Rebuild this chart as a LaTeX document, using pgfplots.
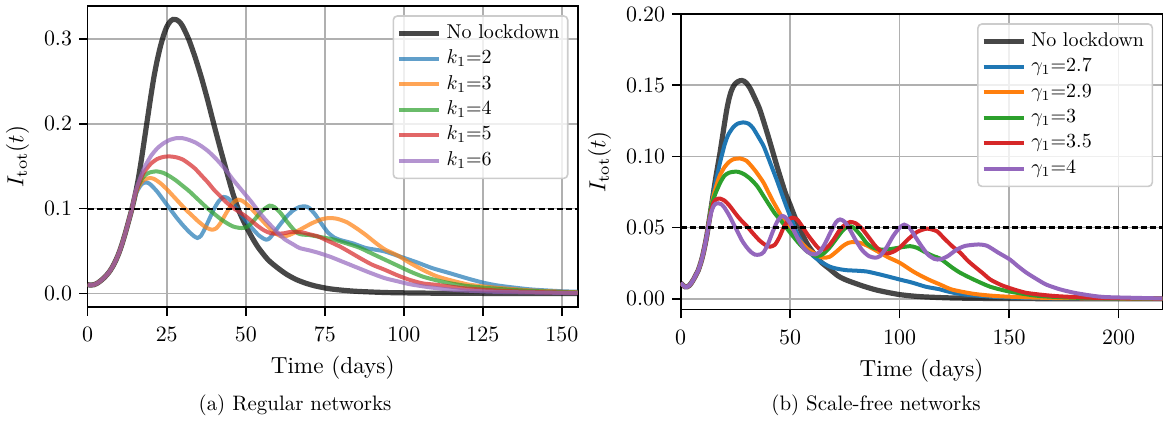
\documentclass[border=0pt]{standalone}
\usepackage{pgfplots}
\pgfplotsset{compat=1.18}
\definecolor{tblue}{HTML}{1F77B4}
\definecolor{torange}{HTML}{FF7F0E}
\definecolor{tgreen}{HTML}{2CA02C}
\definecolor{tred}{HTML}{D62728}
\definecolor{tpurple}{HTML}{9467BD}
\pgfplotsset{
  common/.style={
    scale only axis,
    axis line style={line width=0.8pt},
    grid=major,
    major grid style={color=black!31, line width=0.8pt},
    tick align=outside,
    xtick pos=left, ytick pos=left,
    major tick length=4.3pt,
    every tick/.style={black, line width=0.8pt},
    tick label style={font=\fontsize{10.5}{12}\selectfont},
    xticklabel style={yshift=-2.3pt},
    label style={font=\fontsize{10}{12}\selectfont, scale=1.16},
    xlabel={Time (days)},
    ylabel={$I_{\mathrm{tot}}(t)$},
    legend cell align=left,
    legend image code/.code={\draw[##1] (0pt,0pt) -- (20pt,0pt);},
    legend style={at={(1,1)}, anchor=north east, xshift=-4.6pt, yshift=-4.6pt,
      draw=black!20, line width=0.8pt, rounded corners=2pt, fill=white, fill opacity=0.8, text opacity=1,
      font=\fontsize{10}{12}\selectfont, inner xsep=1.5pt, inner ysep=2.5pt, row sep=0pt,
      nodes={inner ysep=1.2pt, inner xsep=2.6pt, text height=7.5pt, text depth=2.8pt}},
  },
  nolock/.style={black, opacity=0.72, line width=2.6pt, smooth, tension=0.4},
  ca/.style={#1, opacity=0.7, line width=2.0pt, smooth, tension=0.4},
  cb/.style={#1, line width=2.0pt, smooth, tension=0.4},
}
\begin{document}
\begin{tikzpicture}
\useasboundingbox (0,0) rectangle (583.5pt,210.5pt);
% ---------------- panel (a)
\begin{axis}[common,
  at={(43.85pt,56.85pt)}, anchor=south west,
  width=245pt, height=150.65pt,
  xmin=0, xmax=155, ymin=-0.0161, ymax=0.3386,
  xtick={0,25,50,75,100,125,150},
  ytick={0,0.1,0.2,0.3},
  yticklabel style={/pgf/number format/.cd, fixed, fixed zerofill, precision=1},
]
\addplot[nolock] coordinates {(0,0.0105)(1,0.0100)(2,0.0105)(3,0.0122)(4,0.0148)(5,0.0180)(6,0.0218)(7,0.0265)(8,0.0325)(9,0.040)(10,0.049)(11,0.060)(12,0.0725)(13,0.086)(14,0.100)(15,0.116)
(16,0.135)(17,0.158)(18,0.183)(19,0.208)(20,0.233)(21,0.256)(22,0.275)(23,0.291)(24,0.304)(25,0.314)(26,0.320)(27,0.3228)(28,0.3225)(29,0.320)(30,0.315)
(32,0.299)(34,0.278)(36,0.254)(38,0.227)(40,0.198)(42,0.170)(44,0.143)(46,0.117)(48,0.096)(50,0.080)(52,0.066)(54,0.054)(57,0.040)(60,0.0305)(63,0.0225)(66,0.0165)(69,0.0122)(72,0.009)(76,0.006)(80,0.0042)(85,0.0027)(95,0.0012)(110,0.0005)(130,0.0002)(155,0.0001)};
\addlegendentry{No lockdown}
\addplot[ca=tblue] coordinates {(0,0.0105)(1,0.0100)(2,0.0105)(3,0.0122)(4,0.0148)(5,0.0180)(6,0.0218)(7,0.0265)(8,0.0325)(9,0.040)(10,0.049)(11,0.060)(12,0.0725)(13,0.086)(14,0.100)(15,0.115)
(16,0.123)(17,0.1285)(18,0.1308)(19,0.1305)(20,0.128)(22,0.120)(24,0.110)(26,0.100)(28,0.090)(30,0.081)(32,0.073)(33.5,0.068)(34.7,0.0655)(35.8,0.068)(37,0.076)(38.5,0.088)(40,0.100)(41.5,0.109)(43,0.1138)(44.5,0.112)(46,0.106)(48,0.096)(50,0.086)(52,0.077)(54,0.069)(55.5,0.065)(56.5,0.0635)(57.5,0.065)(59,0.072)(61,0.082)(63,0.091)(65,0.098)(67,0.102)(68.8,0.1027)(70,0.101)(72,0.093)(74,0.082)(76,0.072)(78,0.066)(80,0.063)(84,0.059)(88,0.0537)(93.8,0.0498)(98.6,0.0439)(104,0.037)(109,0.030)(114.3,0.0243)(120,0.018)(125,0.013)(130,0.0094)(140,0.005)(150,0.0028)(155,0.0022)};
\addlegendentry{$k_1$=2}
\addplot[ca=torange] coordinates {(0,0.0105)(1,0.0100)(2,0.0105)(3,0.0122)(4,0.0148)(5,0.0180)(6,0.0218)(7,0.0265)(8,0.0325)(9,0.040)(10,0.049)(11,0.060)(12,0.0725)(13,0.086)(14,0.100)(15,0.116)
(16,0.125)(17,0.131)(18,0.1345)(19.7,0.136)(21,0.135)(23,0.130)(25,0.123)(27,0.115)(29,0.107)(31,0.099)(33,0.092)(35,0.085)(37,0.079)(38.5,0.076)(39.6,0.0753)(40.7,0.077)(42,0.083)(44,0.096)(46,0.107)(47.5,0.1106)(49,0.109)(51,0.103)(53,0.095)(55,0.087)(57,0.079)(59,0.072)(61.2,0.0674)(63,0.068)(65,0.071)(68,0.077)(71,0.083)(74,0.0875)(76.5,0.089)(79,0.088)(82,0.084)(85,0.077)(88,0.069)(91,0.060)(94,0.052)(98,0.045)(102,0.036)(106,0.028)(110,0.021)(114,0.0165)(120,0.011)(125,0.0085)(130,0.0067)(140,0.0038)(155,0.0015)};
\addlegendentry{$k_1$=3}
\addplot[ca=tgreen] coordinates {(0,0.0105)(1,0.0100)(2,0.0105)(3,0.0122)(4,0.0148)(5,0.0180)(6,0.0218)(7,0.0265)(8,0.0325)(9,0.040)(10,0.049)(11,0.060)(12,0.0725)(13,0.086)(14,0.100)(15,0.117)
(16,0.127)(17,0.134)(18,0.139)(19.5,0.1425)(21.8,0.1439)(24,0.142)(26,0.138)(28,0.133)(30,0.127)(32,0.121)(34,0.114)(36,0.107)(38,0.100)(40,0.094)(42,0.088)(44,0.083)(46,0.079)(47.8,0.0775)(49.4,0.0773)(51,0.080)(53,0.088)(55,0.097)(57.5,0.1035)(59,0.102)(61,0.095)(63,0.085)(65,0.076)(66.5,0.071)(68.1,0.0694)(70,0.069)(73,0.067)(76,0.065)(78,0.0635)(82,0.059)(86,0.054)(90,0.047)(94,0.040)(98,0.033)(102,0.026)(106,0.020)(110,0.016)(114,0.0126)(120,0.009)(130,0.0055)(140,0.0032)(155,0.0012)};
\addlegendentry{$k_1$=4}
\addplot[ca=tred] coordinates {(0,0.0105)(1,0.0100)(2,0.0105)(3,0.0122)(4,0.0148)(5,0.0180)(6,0.0218)(7,0.0265)(8,0.0325)(9,0.040)(10,0.049)(11,0.060)(12,0.0725)(13,0.086)(14,0.100)(15,0.117)
(16,0.128)(17,0.137)(18,0.144)(20,0.153)(22,0.1585)(24,0.161)(26,0.1615)(28,0.1605)(30,0.158)(32,0.153)(34,0.147)(36,0.139)(38,0.131)(40,0.122)(42,0.1145)(44,0.107)(46,0.101)(48,0.096)(50,0.091)(52,0.085)(54,0.079)(56,0.074)(58,0.071)(60,0.0705)(62,0.071)(64,0.0725)(66,0.0725)(68,0.072)(70,0.070)(72.8,0.0674)(76,0.062)(80,0.055)(83.3,0.048)(87,0.040)(90,0.034)(94,0.028)(98,0.0215)(102,0.016)(106,0.012)(110,0.0105)(114,0.0086)(120,0.006)(130,0.0035)(140,0.002)(155,0.0008)};
\addlegendentry{$k_1$=5}
\addplot[ca=tpurple] coordinates {(0,0.0105)(1,0.0100)(2,0.0105)(3,0.0122)(4,0.0148)(5,0.0180)(6,0.0218)(7,0.0265)(8,0.0325)(9,0.040)(10,0.049)(11,0.060)(12,0.0725)(13,0.086)(14,0.100)(15,0.118)
(16,0.130)(17,0.140)(18,0.149)(20,0.162)(22,0.171)(24,0.177)(26,0.181)(28,0.183)(30,0.183)(32,0.181)(34,0.178)(36,0.1735)(38,0.168)(40,0.161)(42,0.153)(44,0.144)(46,0.134)(48,0.125)(50,0.116)(52,0.107)(54,0.097)(56,0.088)(58,0.080)(60,0.072)(62.3,0.064)(65,0.058)(67,0.0537)(70,0.051)(73,0.048)(77,0.043)(81,0.037)(85,0.031)(89,0.025)(93.8,0.0184)(98,0.0145)(102,0.011)(108,0.0075)(114,0.005)(120,0.0035)(130,0.002)(155,0.0006)};
\addlegendentry{$k_1$=6}
\addplot[black, line width=1.15pt, dash pattern=on 3pt off 1.6pt, forget plot] coordinates {(0,0.1)(155,0.1)};
\end{axis}
% ---------------- panel (b)
\begin{axis}[common,
  at={(340.35pt,55.65pt)}, anchor=south west,
  width=240.8pt, height=147.85pt,
  xmin=0, xmax=220, ymin=-0.0076, ymax=0.2,
  xtick={0,50,100,150,200},
  ytick={0,0.05,0.1,0.15,0.2},
  yticklabel style={/pgf/number format/.cd, fixed, fixed zerofill, precision=2},
]
\addplot[nolock] coordinates {(0,0.0112)(1,0.0095)(2,0.0085)(3,0.0085)(4,0.0095)(5,0.0115)(6,0.0140)(7,0.0170)(8,0.020)(9,0.0245)(10,0.030)(11,0.037)(12,0.045)(13,0.055)(14,0.065)(15,0.075)
(16,0.085)(17,0.094)(18,0.103)(19,0.113)(20,0.123)(21,0.1325)(22,0.140)(23,0.1455)(24,0.149)(25,0.1512)(26,0.1524)(27,0.1531)(28,0.1533)(29,0.1528)(30,0.1515)(31,0.1495)(32,0.147)(34,0.1405)(36,0.1335)(38,0.124)(40,0.114)(42,0.1035)(44,0.093)(46,0.083)(48,0.0735)(50,0.066)(52,0.058)(54,0.051)(56,0.044)(58,0.038)(60.6,0.0324)(64,0.026)(68.3,0.0206)(72,0.016)(76,0.013)(83.5,0.0089)(90,0.006)(100,0.003)(110,0.0015)(125,0.0006)(150,0.0002)(220,0.0)};
\addlegendentry{No lockdown}
\addplot[cb=tblue] coordinates {(0,0.0112)(1,0.0095)(2,0.0085)(3,0.0085)(4,0.0095)(5,0.0115)(6,0.0140)(7,0.0170)(8,0.020)(9,0.0245)(10,0.030)(11,0.037)(12,0.045)(13,0.055)(14,0.065)(15,0.0745)
(16,0.082)(17,0.089)(18,0.096)(19,0.102)(20,0.108)(21,0.1125)(22,0.116)(24,0.1205)(26,0.123)(28.6,0.1239)(31,0.123)(33,0.120)(35,0.115)(37.8,0.1075)(40,0.099)(42,0.091)(44,0.083)(45.4,0.077)(48,0.066)(50,0.058)(53,0.0465)(56,0.038)(58,0.034)(60.6,0.030)(64,0.026)(68.3,0.0225)(72,0.021)(76,0.0201)(80,0.0198)(85,0.0192)(90,0.0175)(94,0.016)(100,0.0136)(106,0.0113)(112,0.0085)(118,0.0068)(123,0.0048)(130,0.0030)(146,0.0012)(170,0.0004)(220,0.0)};
\addlegendentry{$\gamma_1$=2.7}
\addplot[cb=torange] coordinates {(0,0.0112)(1,0.0095)(2,0.0085)(3,0.0085)(4,0.0095)(5,0.0115)(6,0.0140)(7,0.0170)(8,0.020)(9,0.0245)(10,0.030)(11,0.037)(12,0.045)(13,0.055)(14,0.065)(15,0.0725)
(16,0.078)(17,0.083)(18,0.087)(20,0.0925)(22,0.0960)(24,0.098)(27,0.0986)(30,0.097)(33,0.092)(35,0.088)(37.8,0.0817)(40,0.075)(42,0.069)(44,0.0635)(46,0.058)(48,0.053)(50,0.0488)(53,0.043)(56,0.038)(58,0.035)(60.6,0.0324)(63,0.030)(65.2,0.0289)(68,0.0295)(71,0.033)(74,0.037)(76.5,0.0393)(78.9,0.0399)(82,0.0393)(85,0.0375)(88,0.035)(91,0.0324)(95,0.029)(100,0.0254)(106,0.0194)(110,0.016)(114,0.013)(118.6,0.010)(124,0.0065)(134,0.0035)(146,0.0018)(170,0.0006)(220,0.0001)};
\addlegendentry{$\gamma_1$=2.9}
\addplot[cb=tgreen] coordinates {(0,0.0112)(1,0.0095)(2,0.0085)(3,0.0085)(4,0.0095)(5,0.0115)(6,0.0140)(7,0.0170)(8,0.020)(9,0.0245)(10,0.030)(11,0.037)(12,0.045)(13,0.055)(14,0.065)(15,0.070)
(16,0.0745)(17,0.078)(18,0.0815)(20,0.0865)(22,0.0885)(24,0.0892)(26.3,0.0892)(29,0.0875)(32,0.084)(35,0.079)(37.8,0.0723)(40,0.067)(43,0.060)(46,0.0545)(50,0.0465)(54,0.039)(58,0.033)(62.2,0.030)(65,0.0315)(68,0.036)(71,0.042)(74,0.048)(76.6,0.0511)(79,0.050)(82,0.045)(85,0.039)(88,0.0359)(92,0.0345)(96,0.035)(100,0.036)(104.8,0.037)(108,0.0358)(112,0.0325)(115.5,0.030)(118.6,0.0282)(124,0.022)(127.7,0.0183)(133.8,0.0136)(141.4,0.0085)(150,0.0052)(164,0.002)(185,0.0006)(220,0.0001)};
\addlegendentry{$\gamma_1$=3}
\addplot[cb=tred] coordinates {(0,0.0112)(1,0.0095)(2,0.0085)(3,0.0085)(4,0.0095)(5,0.0115)(6,0.0140)(7,0.0170)(8,0.020)(9,0.0245)(10,0.030)(11,0.037)(12,0.045)(13,0.0545)(14,0.062)(15,0.0675)
(16,0.0695)(17,0.0703)(18,0.0704)(20,0.069)(22,0.066)(24,0.062)(26,0.058)(28,0.0545)(30.2,0.0511)(33,0.046)(36,0.041)(38.5,0.038)(40.8,0.0366)(43,0.038)(45,0.043)(47,0.050)(49,0.055)(50.8,0.057)(53,0.056)(55,0.052)(58,0.045)(61,0.039)(63,0.0355)(65.2,0.0347)(67.5,0.037)(70,0.042)(72.5,0.048)(75,0.052)(77.4,0.054)(80,0.053)(83,0.049)(86,0.043)(89,0.037)(91.5,0.0335)(94.2,0.0319)(97,0.033)(100,0.0359)(104,0.042)(108,0.047)(112.5,0.0493)(117,0.0475)(120,0.043)(124,0.037)(127.7,0.0324)(131,0.027)(134,0.023)(138,0.018)(141.4,0.0136)(146,0.010)(150,0.0077)(158,0.0042)(171,0.002)(190,0.0007)(220,0.0002)};
\addlegendentry{$\gamma_1$=3.5}
\addplot[cb=tpurple] coordinates {(0,0.0112)(1,0.0095)(2,0.0085)(3,0.0085)(4,0.0095)(5,0.0115)(6,0.0140)(7,0.0170)(8,0.020)(9,0.0245)(10,0.030)(11,0.037)(12,0.045)(13,0.054)(14,0.061)(15,0.065)
(16,0.0668)(17.2,0.0671)(18.5,0.0665)(20,0.064)(22,0.059)(24,0.053)(26,0.047)(28,0.041)(30,0.0365)(32,0.033)(34,0.031)(36.3,0.0312)(38,0.033)(40,0.039)(42,0.047)(44,0.054)(46.2,0.0582)(48,0.057)(50,0.053)(52,0.047)(54,0.041)(56.5,0.035)(59,0.032)(61.4,0.0312)(63.5,0.033)(66,0.039)(68.5,0.047)(71,0.054)(72.8,0.0558)(75,0.054)(77.5,0.048)(80,0.041)(83,0.034)(86,0.030)(88.8,0.0289)(91,0.030)(94,0.036)(97,0.044)(100,0.050)(102.1,0.0521)(104.5,0.050)(107,0.044)(110,0.037)(113,0.031)(116,0.028)(118.6,0.0277)(122,0.030)(126,0.0345)(130,0.0372)(136,0.0382)(140,0.0372)(145,0.0325)(150.3,0.0277)(154,0.023)(158,0.0183)(163,0.0135)(167,0.010)(173,0.0068)(180,0.0042)(188,0.0022)(195,0.0012)(220,0.0003)};
\addlegendentry{$\gamma_1$=4}
\addplot[black, line width=1.15pt, dash pattern=on 3pt off 1.6pt, forget plot] coordinates {(0,0.05)(220,0.05)};
\end{axis}
\node[font=\fontsize{10}{12}\selectfont, scale=1.045] at (147.5pt,7.75pt) {(a) Regular networks};
\node[font=\fontsize{10}{12}\selectfont, scale=1.045] at (438pt,7.75pt) {(b) Scale-free networks};
\end{tikzpicture}
\end{document}
